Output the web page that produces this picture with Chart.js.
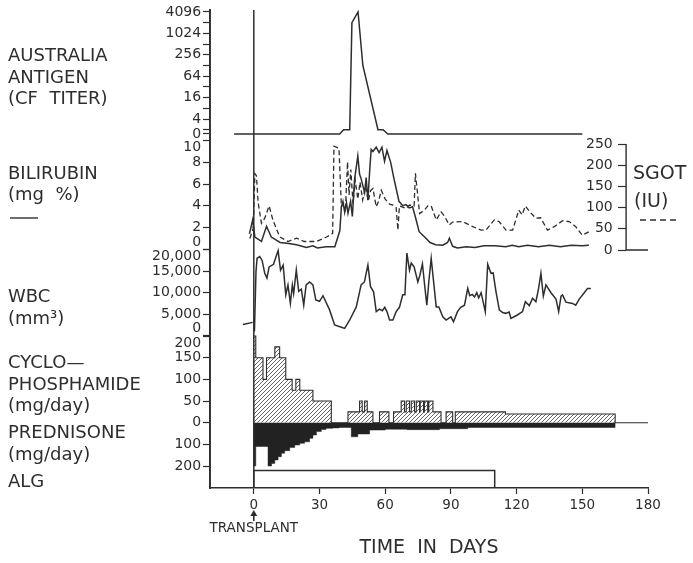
<!DOCTYPE html>
<html>
<head>
<meta charset="utf-8">
<script src="https://cdn.jsdelivr.net/npm/chart.js@4.4.0/dist/chart.umd.min.js"></script>
<style>
  html, body { margin: 0; padding: 0; background: #fff; }
</style>
</head>
<body>
<canvas id="chart" width="693" height="563"></canvas>
<script>
// ---- data (days after transplant, value) ----
const dayTicks = [0, 30, 60, 90, 120, 150, 180];
const transplantDay = 0;

const antigenTicks = [0, 4, 16, 64, 256, 1024, 4096];
const antigenMinor = [2, 8, 32, 128, 512, 2048];
const antigen = [[-9, 0], [39.2, 0], [41, 2], [43.8, 2], [44.8, 2048], [47.6, 4096],
  [49.8, 128], [56.7, 2], [59, 2], [61.2, 0], [150, 0]];

const bilirubinTicks = [0, 10, 2, 4, 6, 8];
const bilirubin = [[-2, 1.4], [-0.5, 2.7], [0.5, 1.1], [3.5, 0.7], [5.8, 2.1], [8, 1.1],
  [12, 0.6], [16, 0.5], [19.5, 0.4], [24, 0.15], [27, 0.3], [29, 0.1], [33, 0.2], [37, 0.2],
  [39.3, 1.7], [40, 3.9], [40.7, 4.4], [41.5, 3.4], [42.3, 4.3], [43, 3.3], [44.2, 4.4],
  [45, 3.0], [46, 6.4], [47.5, 8.6], [48.3, 6.9], [49, 6.5], [50.6, 5.2], [51.3, 6.6],
  [52.1, 4.5], [53, 7.5], [53.6, 9.2], [54.4, 9.0], [55.9, 9.4], [57.2, 8.9], [58.5, 9.4],
  [59.7, 8.1], [60.8, 9.1], [62.5, 8.0], [64, 6.5], [66.3, 4.4], [68, 4.0], [69.5, 4.1],
  [71, 3.8], [72.5, 3.9], [74, 2.8], [75.5, 1.6], [78, 1.1], [80.5, 0.6], [83, 0.4],
  [86.3, 0.35], [88.5, 0.6], [89.3, 1.0], [90.8, 0.25], [93, 0.1], [97, 0.2], [101, 0.15],
  [105, 0.3], [110, 0.3], [115, 0.2], [118, 0.35], [121, 0.2], [125, 0.35], [130, 0.2],
  [135, 0.35], [140, 0.2], [145, 0.35], [150, 0.3], [153, 0.35]];

const sgotTicks = [0, 50, 100, 150, 200, 250];
const sgotAxisDay = 170;
const sgot = [[-1.8, 27], [-0.3, 50], [0.5, 180], [1.2, 175], [2, 111], [3.5, 63], [5, 75],
  [7, 104], [8.7, 71], [11.8, 31], [15.6, 20], [19.5, 28], [23, 20], [28.5, 20], [33, 30],
  [36, 39], [36.6, 245], [38.9, 240], [40, 102], [41, 110], [41.8, 90], [42.8, 208],
  [43.5, 130], [44.3, 190], [45.3, 110], [46.3, 165], [47.5, 120], [48.5, 160], [49.7, 118],
  [51, 150], [52.3, 115], [53.3, 140], [54.4, 145], [55.9, 102], [57, 115], [58.2, 141],
  [60, 120], [62, 108], [63.5, 106], [65, 100], [65.8, 47], [66.5, 104], [69.6, 98],
  [71.1, 106], [73.2, 104], [73.8, 181], [75.7, 86], [77.9, 94], [79.5, 104], [81, 104],
  [83.3, 71], [85.5, 90], [87, 80], [89.3, 59], [90.8, 66], [95.4, 67], [100, 55],
  [103.8, 47], [106, 47], [109.8, 71], [112, 67], [115.2, 47], [118.2, 47], [121, 94],
  [122.5, 83], [124, 104], [126, 90], [128.8, 75], [131, 76], [134.1, 47], [137.2, 55],
  [141, 69], [144, 67], [147, 55], [150, 35], [153, 43]];

const wbcTicks = [0, 20000, 5000, 10000, 15000];
const wbc = [[-5, 2600], [-0.5, 3100], [-0.2, null],
  [0.3, 1000], [1, 14900], [1.5, 18000], [2.7, 18400], [3.8, 17500], [5, 14500], [6, 13400],
  [7, 16000], [9, 16600], [11.1, 19800], [12.2, 15200], [13.4, 16400], [14.6, 9500],
  [15.6, 11800], [16.7, 7500], [17.6, 11800], [18.2, 9800], [19.4, 15300], [20.5, 10300],
  [21.7, 10800], [22.8, 7100], [23.9, 11800], [25.5, 12500], [27, 11800], [28.3, 8300],
  [30, 8000], [31.6, 9300], [34.6, 6000], [36.9, 2500], [40, 1950], [41.5, 1700],
  [43.8, 3650], [46.8, 6700], [49, 11800], [50.5, 12500], [52.1, 16400], [53.3, 11400],
  [54.7, 10200], [55.9, 5600], [57.4, 6200], [58.7, 5800], [59.8, 6600], [60.8, 5600],
  [62, 3650], [63.5, 3650], [65, 5600], [66.5, 6600], [68, 9500], [69, 9500], [69.9, 19200],
  [71.1, 15200], [71.9, 16900], [73.2, 16000], [74.9, 12500], [75.8, 14000], [77, 16700],
  [78, 11800], [79, 7100], [80, 13000], [81, 18000], [83.3, 6700], [84.5, 6700],
  [86.3, 4400], [87.8, 3650], [90, 4400], [91.2, 3250], [93, 5600], [94.5, 6600],
  [96.2, 7100], [97.7, 11000], [98.6, 9300], [99.8, 9600], [100.8, 9000], [101.8, 10000],
  [102.7, 8800], [103.8, 10000], [105.7, 5600], [106.8, 16600], [108.3, 14500],
  [109.3, 14600], [110.6, 10200], [112.1, 6000], [113.6, 5400], [115, 5200], [116.6, 5500],
  [117.4, 4000], [120, 4700], [122.7, 5600], [124, 7900], [125.8, 7000], [127.3, 8700],
  [128.8, 7900], [130, 10900], [131.1, 14500], [132.2, 9200], [133.4, 11800], [135.7, 10000],
  [138, 8500], [139.2, 5600], [140.3, 9200], [141, 9500], [142.5, 7800], [145.5, 7500],
  [147, 7100], [148.6, 8500], [150.9, 10000], [152.4, 11000], [153.9, 11000]];

// dose steps: [first day, mg/day] held until the next step
const cycloTicks = [200, 0, 50, 100, 150];
const cyclo = [[-0.3, 200], [0.9, 150], [4.2, 100], [5.8, 150], [9.6, 175], [11.8, 150],
  [14.6, 100], [17.5, 75], [19.2, 100], [21, 75], [27, 50], [35.4, 0],
  [43, 25], [48.3, 50], [49.5, 25], [50.6, 50], [51.8, 25], [54.4, 0],
  [57.4, 25], [61.7, 0], [63.8, 25], [67.3, 50], [68.8, 25], [69.6, 50], [71.1, 25],
  [71.9, 50], [73.4, 25], [74.2, 50], [75.7, 25], [76, 50], [77.5, 25], [77.9, 50],
  [79.4, 25], [79.9, 50], [81.8, 25], [85.5, 0], [87.8, 25], [90.8, 0], [92, 25],
  [114.9, 20], [165, 0], [180, 0]];

const predTicks = [100, 200];
const pred = [[-0.3, 200], [0.9, 110], [6.5, 200], [8.1, 188], [9.6, 172], [11.1, 157],
  [12.6, 141], [14.1, 129], [16.4, 114], [18.7, 103], [21, 95], [23.2, 88], [25.5, 72],
  [27, 57], [28.6, 41], [30.8, 31], [33, 26], [36, 24], [39, 22], [44.5, 65], [47.5, 52],
  [52.9, 34], [60, 30], [70, 32], [84.8, 28], [97.7, 22], [165, 0]];

const algStart = 0;
const algEnd = 110;

// ---- look ----
const INK = '#2e2e2e';
const FONT = '"DejaVu Sans", sans-serif';
const T = 10, B = 488;      // chart area top / bottom
const agZero = 0.6;         // log2 position of the "0" titer row

function agPos(t) { return t > 0 ? Math.log2(t) : agZero; }
function pts(list, f) { return list.map(([d, v]) => ({ x: d, y: v === null ? null : (f ? f(v) : v) })); }

// labels on axes placed at an x value sit flush on the axis; keep a small gap
function gap(n) { return s => Array.isArray(s) ? s.map(l => l ? l + ' '.repeat(n) : l) : s + ' '.repeat(n); }
const pad = gap(2);

// value range so that v1 sits at pixel p1 and v2 at p2
function range(v1, p1, v2, p2) {
  const s = (v2 - v1) / (p2 - p1);
  return { top: v1 + (T - p1) * s, bottom: v1 + (B - p1) * s };
}

function hatch() {
  const c = document.createElement('canvas');
  c.width = 4; c.height = 4;
  const g = c.getContext('2d');
  g.strokeStyle = '#555';
  g.lineWidth = 0.9;
  g.beginPath();
  g.moveTo(0, 4); g.lineTo(4, 0);
  g.moveTo(-1, 1); g.lineTo(1, -1);
  g.moveTo(3, 5); g.lineTo(5, 3);
  g.stroke();
  return g.createPattern(c, 'repeat');
}

function leftAxis(r, ticks, label, reverse) {
  return {
    type: 'linear', position: { x: -20 }, bounds: 'data', reverse: !!reverse,
    min: reverse ? r.top : r.bottom, max: reverse ? r.bottom : r.top,
    afterBuildTicks: s => { s.ticks = ticks.map(v => ({ value: v })); },
    border: { color: INK, width: 1.4 },
    grid: { drawOnChartArea: false, tickLength: 6, tickColor: INK, tickWidth: 1.2 },
    ticks: { autoSkip: false, padding: 3, color: INK, font: { family: FONT, size: 14, lineHeight: 1 },
      callback: v => pad(label(v)) }
  };
}

const rAg = range(12, 12, 2, 119);
const rBili = range(0, 249, 10, 140.7);
const rSgot = range(0, 250, 250, 144);
const rWbc = range(0, 335.7, 20000, 249.7);
const rCyc = range(0, 422.7, 200, 336);
const rPred = range(0, 422.7, 200, 466);
const rAlg = range(0, B, 1, 470.5);

const sideLabels = [
  ['AUSTRALIA', 56], ['ANTIGEN', 78], ['(CF  TITER)', 99],
  ['BILIRUBIN', 174], ['(mg  %)', 195],
  ['WBC', 297], ['(mm³)', 319],
  ['CYCLO—', 363], ['PHOSPHAMIDE', 385], ['(mg/day)', 406],
  ['PREDNISONE', 433], ['(mg/day)', 455],
  ['ALG', 482]
];

const decor = {
  id: 'decor',
  afterDatasetsDraw(chart) {
    const { ctx, chartArea, scales } = chart;
    const x = scales.x;
    ctx.save();
    ctx.strokeStyle = INK;
    ctx.lineWidth = 1.5;
    // transplant line
    const x0 = x.getPixelForValue(transplantDay);
    ctx.beginPath();
    ctx.moveTo(x0, chartArea.top);
    ctx.lineTo(x0, chartArea.bottom);
    ctx.stroke();
    // SGOT axis with its foot
    const ys = scales.ySgot;
    const xs = x.getPixelForValue(sgotAxisDay);
    ctx.lineWidth = 1.4;
    ctx.beginPath();
    ctx.moveTo(xs, ys.getPixelForValue(sgotTicks[sgotTicks.length - 1]));
    ctx.lineTo(xs, ys.getPixelForValue(0));
    ctx.lineTo(x.getPixelForValue(180), ys.getPixelForValue(0));
    ctx.stroke();
    ctx.restore();
  },
  afterDraw(chart) {
    const { ctx, scales } = chart;
    const x = scales.x;
    ctx.save();
    ctx.fillStyle = INK;
    ctx.strokeStyle = INK;
    ctx.textBaseline = 'middle';
    ctx.font = '18px ' + FONT;
    sideLabels.forEach(([t, y]) => ctx.fillText(t, 8, y));
    // bilirubin key
    ctx.lineWidth = 1.4;
    ctx.beginPath(); ctx.moveTo(10, 218); ctx.lineTo(38, 218); ctx.stroke();
    // SGOT title and key
    ctx.font = '19px ' + FONT;
    ctx.fillText('SGOT', 633, 174);
    ctx.fillText('(IU)', 634, 202);
    ctx.setLineDash([6, 4]);
    ctx.beginPath(); ctx.moveTo(640, 220); ctx.lineTo(680, 220); ctx.stroke();
    ctx.setLineDash([]);
    // transplant arrow
    const x0 = x.getPixelForValue(transplantDay);
    ctx.lineWidth = 1.6;
    ctx.beginPath(); ctx.moveTo(x0, 521); ctx.lineTo(x0, 514); ctx.stroke();
    ctx.beginPath(); ctx.moveTo(x0 - 3.5, 516); ctx.lineTo(x0 + 3.5, 516); ctx.lineTo(x0, 510); ctx.closePath(); ctx.fill();
    ctx.font = '13.5px ' + FONT;
    ctx.textAlign = 'center';
    ctx.fillText('TRANSPLANT', x0, 528);
    ctx.restore();
  }
};

const line = { pointRadius: 0, borderColor: INK, borderWidth: 1.5, tension: 0, fill: false };

new Chart(document.getElementById('chart'), {
  type: 'line',
  data: {
    datasets: [
      Object.assign({ yAxisID: 'yAg', data: pts(antigen, agPos) }, line),
      Object.assign({ yAxisID: 'yBili', data: pts(bilirubin) }, line),
      Object.assign({ yAxisID: 'ySgot', data: pts(sgot) }, line, { borderDash: [5, 3], borderWidth: 1.3 }),
      Object.assign({ yAxisID: 'yWbc', data: pts(wbc), spanGaps: false }, line),
      Object.assign({ yAxisID: 'yCyc', data: pts(cyclo) }, line,
        { stepped: 'before', fill: 'origin', backgroundColor: hatch(), borderWidth: 1.1 }),
      Object.assign({ yAxisID: 'yPred', data: pts(pred) }, line,
        { stepped: 'before', fill: 'origin', backgroundColor: '#222', borderColor: '#222', borderWidth: 0.5 }),
      Object.assign({ yAxisID: 'yAlg', data: pts([[algStart, 0], [algStart, 1], [algEnd, 1], [algEnd, 0]]) }, line)
    ]
  },
  options: {
    responsive: false,
    animation: false,
    layout: { padding: { left: 210, right: 45, top: T, bottom: 0 } },
    plugins: { legend: { display: false }, tooltip: { enabled: false } },
    scales: {
      x: {
        type: 'linear', position: 'bottom', min: -20, max: 180, bounds: 'data',
        afterFit: s => { s.height = 563 - B; },
        afterBuildTicks: s => { s.ticks = dayTicks.map(v => ({ value: v })); },
        border: { color: INK, width: 1.4 },
        grid: { drawOnChartArea: false, tickLength: 6, tickColor: INK, tickWidth: 1.2 },
        ticks: { autoSkip: false, maxRotation: 0, padding: 3, color: INK, font: { family: FONT, size: 13.5 } },
        title: { display: true, text: 'TIME  IN  DAYS', color: INK, font: { family: FONT, size: 19 }, padding: { top: 0, bottom: 4 } }
      },
      yAg: Object.assign(leftAxis(rAg, [], v => {
        const t = v === agZero ? 0 : Math.round(2 ** v);
        return antigenTicks.includes(t) ? String(t) : '';
      }), {
        afterBuildTicks: s => { s.ticks = antigenTicks.concat(antigenMinor).sort((a, b) => a - b).map(t => ({ value: agPos(t) })); }
      }),
      yBili: leftAxis(rBili, bilirubinTicks, v => v === 10 ? ['', '10'] : v === 0 ? ['0', ''] : String(v)),
      yWbc: leftAxis(rWbc, wbcTicks, v => {
        const s = v.toLocaleString('en-US');
        return v === 20000 ? ['', s] : v === 0 ? [s, ''] : s;
      }),
      yCyc: leftAxis(rCyc, cycloTicks, v => v === 200 ? ['', '200'] : String(v)),
      yPred: leftAxis(rPred, predTicks, v => String(v), true),
      ySgot: {
        type: 'linear', position: { x: sgotAxisDay }, bounds: 'data',
        min: rSgot.bottom, max: rSgot.top,
        afterBuildTicks: s => { s.ticks = sgotTicks.map(v => ({ value: v })); },
        border: { display: false },
        grid: { drawOnChartArea: false, tickLength: 8, tickColor: INK, tickWidth: 1.2 },
        ticks: { autoSkip: false, padding: 3, color: INK, font: { family: FONT, size: 14, lineHeight: 1 },
          callback: v => gap(3)(String(v)) }
      },
      yAlg: { type: 'linear', display: false, bounds: 'data', min: rAlg.bottom, max: rAlg.top }
    }
  },
  plugins: [decor]
});
</script>
</body>
</html>
